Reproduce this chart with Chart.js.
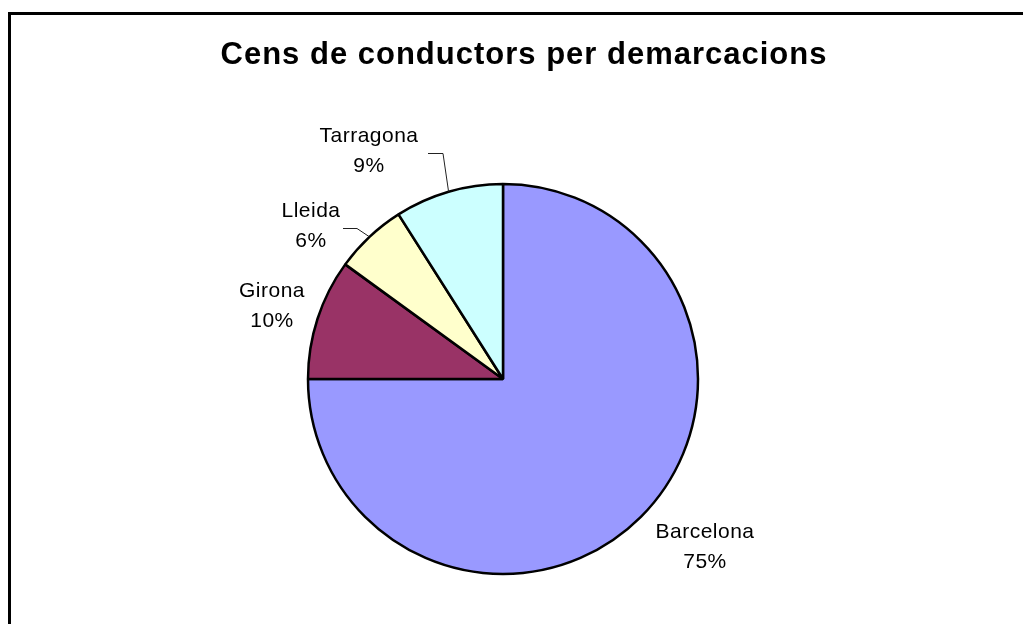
<!DOCTYPE html>
<html>
<head>
<meta charset="utf-8">
<script src="https://cdn.jsdelivr.net/npm/chart.js@4.4.1/dist/chart.umd.min.js"></script>
<style>
  html, body { margin: 0; padding: 0; background: #ffffff; }
  #wrap { width: 1023px; height: 624px; position: relative; }
</style>
</head>
<body>
<div id="wrap"><canvas id="c" width="1023" height="624"></canvas></div>
<script>
// ---- data ----
const chartTitle = 'Cens de conductors per demarcacions';
const categories = ['Barcelona', 'Girona', 'Lleida', 'Tarragona'];
const values = [75, 10, 6, 9];
const sliceColors = ['#9999FF', '#993366', '#FFFFCC', '#CCFFFF'];

// ---- label styling (offsets from pie centre, px) ----
const labelStyle = [
  { dx: 202, dy: 153, leader: null },
  { dx: -231, dy: -88, leader: null },
  { dx: -192, dy: -168, leader: { elbow: [-146, -151], end: [-160, -151] } },
  { dx: -134, dy: -243, leader: { elbow: [-60, -226], end: [-75, -226] } }
];
const FONT = '"Liberation Sans", Arial, sans-serif';

const overlay = {
  id: 'overlay',
  afterDatasetsDraw(chart) {
    const ctx = chart.ctx;
    const meta = chart.getDatasetMeta(0);
    const total = values.reduce((a, b) => a + b, 0);
    ctx.save();
    // frame
    ctx.strokeStyle = '#000';
    ctx.lineWidth = 3;
    ctx.strokeRect(9.5, 13.5, 1100, 700);
    // title
    ctx.fillStyle = '#000';
    ctx.font = 'bold 31px ' + FONT;
    ctx.letterSpacing = '1px';
    ctx.textAlign = 'center';
    ctx.textBaseline = 'middle';
    ctx.fillText(chartTitle, 524, 55);
    // labels
    meta.data.forEach((arc, i) => {
      const p = arc.getProps(['x', 'y', 'startAngle', 'endAngle', 'outerRadius'], true);
      const st = labelStyle[i];
      const lx = p.x + st.dx, ly = p.y + st.dy;
      ctx.fillStyle = '#000';
      ctx.font = '21px ' + FONT;
      ctx.letterSpacing = '0.5px';
      ctx.textAlign = 'center';
      ctx.textBaseline = 'middle';
      ctx.fillText(categories[i], lx, ly);
      ctx.fillText(Math.round(values[i] / total * 100) + '%', lx, ly + 30);
      if (st.leader) {
        const mid = (p.startAngle + p.endAngle) / 2;
        const ax = p.x + Math.cos(mid) * p.outerRadius;
        const ay = p.y + Math.sin(mid) * p.outerRadius;
        ctx.strokeStyle = '#222';
        ctx.lineWidth = 1;
        ctx.beginPath();
        ctx.moveTo(p.x + st.leader.end[0], p.y + st.leader.end[1] + 0.5);
        ctx.lineTo(p.x + st.leader.elbow[0], p.y + st.leader.elbow[1] + 0.5);
        ctx.lineTo(ax, ay);
        ctx.stroke();
      }
    });
    ctx.restore();
  }
};

new Chart(document.getElementById('c'), {
  type: 'pie',
  data: {
    labels: categories,
    datasets: [{
      data: values,
      backgroundColor: sliceColors,
      borderColor: '#000000',
      borderWidth: 2.5,
      borderAlign: 'center'
    }]
  },
  options: {
    responsive: false,
    animation: false,
    radius: 195,
    layout: { padding: { left: 0, right: 17, top: 134, bottom: 0 } },
    plugins: {
      legend: { display: false },
      title: { display: false },
      tooltip: { enabled: false }
    }
  },
  plugins: [overlay]
});
</script>
</body>
</html>
